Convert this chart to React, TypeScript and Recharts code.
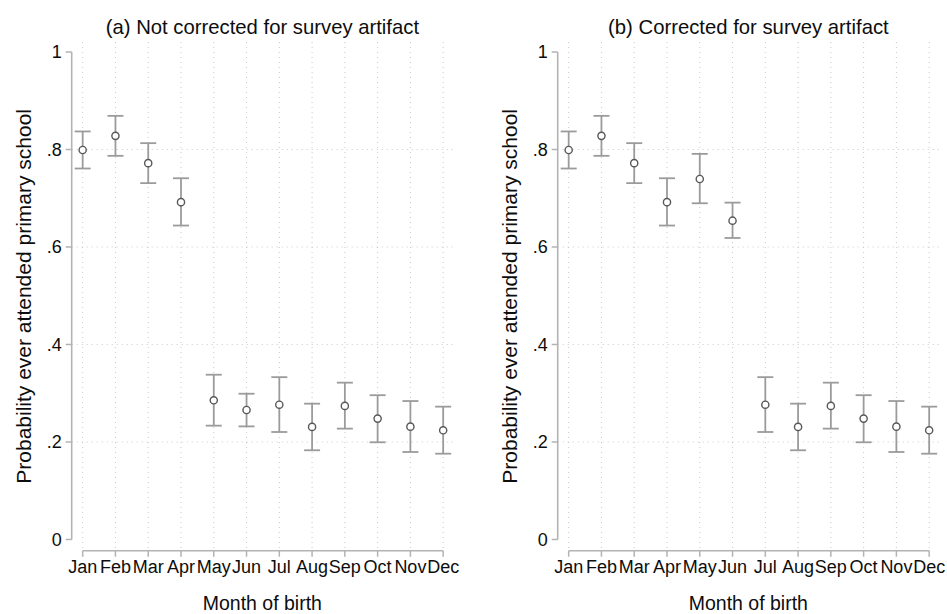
import React from 'react';
import {
  ScatterChart,
  Scatter,
  XAxis,
  YAxis,
  CartesianGrid,
  ErrorBar,
  ReferenceLine,
} from 'recharts';

const months = ['Jan', 'Feb', 'Mar', 'Apr', 'May', 'Jun', 'Jul', 'Aug', 'Sep', 'Oct', 'Nov', 'Dec'];

// Panel (a): not corrected for survey artifact
const estA = [0.799, 0.828, 0.772, 0.692, 0.2855, 0.2656, 0.2765, 0.231, 0.274, 0.248, 0.2315, 0.224];
const lowA = [0.761, 0.787, 0.731, 0.644, 0.2335, 0.232, 0.2205, 0.183, 0.2274, 0.1994, 0.1795, 0.176];
const highA = [0.837, 0.869, 0.813, 0.741, 0.338, 0.299, 0.333, 0.2786, 0.3217, 0.296, 0.284, 0.2725];

// Panel (b): corrected for survey artifact
const estB = [0.799, 0.828, 0.772, 0.692, 0.7395, 0.654, 0.2765, 0.231, 0.274, 0.248, 0.2315, 0.224];
const lowB = [0.761, 0.787, 0.731, 0.644, 0.6897, 0.6185, 0.2205, 0.183, 0.2274, 0.1994, 0.1795, 0.176];
const highB = [0.837, 0.869, 0.813, 0.741, 0.791, 0.691, 0.333, 0.2786, 0.3217, 0.296, 0.284, 0.2725];

const yTicks = [0, 0.2, 0.4, 0.6, 0.8, 1];
const yGrid = [0.2, 0.4, 0.6, 0.8];
const monthIdx = months.map((_, i) => i + 1);

const FONT = '"Liberation Sans", Arial, Helvetica, sans-serif';
const AXIS = '#b3b3b3';
const TEXT = '#0d0d0d';
const X_DOMAIN: [number, number] = [0.665, 12.3];
const Y_DOMAIN: [number, number] = [-0.023, 1.0205];

const build = (est: number[], lo: number[], hi: number[]) =>
  months.map((m, i) => ({
    x: i + 1,
    month: m,
    y: est[i],
    err: [est[i] - lo[i], hi[i] - est[i]],
  }));

const fmtY = (v: number) => {
  if (v === 0) return '0';
  if (v === 1) return '1';
  return String(Number(v.toFixed(1))).replace(/^0/, '');
};

const Marker = (props: any) => {
  const { cx, cy } = props;
  if (cx == null || cy == null) return null;
  return <circle cx={cx} cy={cy} r={3.6} fill="#ffffff" stroke="#585858" strokeWidth={1.4} />;
};

type PanelProps = {
  title: string;
  est: number[];
  lo: number[];
  hi: number[];
  left: number;
};

const Panel = ({ title, est, lo, hi, left }: PanelProps) => {
  const data = build(est, lo, hi);
  return (
    <div style={{ position: 'absolute', left, top: 0, width: 461, height: 614 }}>
      <div
        style={{
          position: 'absolute',
          left: 62.4,
          top: 16.5,
          width: 400,
          textAlign: 'center',
          fontFamily: FONT,
          fontSize: 20.3,
          lineHeight: '20px',
          color: TEXT,
          whiteSpace: 'nowrap',
        }}
      >
        {title}
      </div>
      <ScatterChart width={461} height={614} margin={{ top: 42, right: 8, bottom: 23.3, left: 0 }}>
        <CartesianGrid
          stroke="#c9c9c9"
          strokeDasharray="1 4"
          horizontalValues={yGrid}
          verticalValues={monthIdx}
        />
        <XAxis
          type="number"
          dataKey="x"
          domain={X_DOMAIN}
          ticks={monthIdx}
          interval={0}
          allowDataOverflow
          tickFormatter={(v: number) => months[v - 1]}
          axisLine={false}
          tickLine={{ stroke: AXIS, strokeWidth: 1.5 }}
          tickSize={6}
          tickMargin={3.5}
          height={40}
          tick={{ fontSize: 18, fill: TEXT, fontFamily: FONT }}
          label={{
            value: 'Month of birth',
            position: 'bottom',
            offset: 5.5,
            style: { fontSize: 19.5, fill: TEXT, fontFamily: FONT },
          }}
        />
        <YAxis
          type="number"
          dataKey="y"
          domain={Y_DOMAIN}
          ticks={yTicks}
          interval={0}
          allowDataOverflow
          tickFormatter={fmtY}
          axisLine={false}
          tickLine={{ stroke: AXIS, strokeWidth: 1.5 }}
          tickSize={6}
          tickMargin={4}
          width={71.7}
          tick={{ fontSize: 18, fill: TEXT, fontFamily: FONT }}
          label={{
            value: 'Probability ever attended primary school',
            angle: -90,
            position: 'insideLeft',
            offset: 24,
            style: { fontSize: 21, fill: TEXT, fontFamily: FONT, textAnchor: 'middle' },
          }}
        />
        <ReferenceLine
          segment={[
            { x: 1, y: Y_DOMAIN[0] },
            { x: 12, y: Y_DOMAIN[0] },
          ]}
          stroke={AXIS}
          strokeWidth={1.6}
          ifOverflow="visible"
        />
        <ReferenceLine
          segment={[
            { x: X_DOMAIN[0], y: 0 },
            { x: X_DOMAIN[0], y: 1 },
          ]}
          stroke={AXIS}
          strokeWidth={1.6}
          ifOverflow="visible"
        />
        <Scatter data={data} dataKey="y" shape={Marker} isAnimationActive={false}>
          <ErrorBar dataKey="err" direction="y" width={8} stroke="#9b9b9b" strokeWidth={1.8} isAnimationActive={false} />
        </Scatter>
      </ScatterChart>
    </div>
  );
};

export default function App() {
  return (
    <div style={{ position: 'absolute', left: 0, top: 0, width: 947, height: 614, background: '#ffffff' }}>
      <Panel title="(a) Not corrected for survey artifact" est={estA} lo={lowA} hi={highA} left={0} />
      <Panel title="(b) Corrected for survey artifact" est={estB} lo={lowB} hi={highB} left={486} />
    </div>
  );
}
